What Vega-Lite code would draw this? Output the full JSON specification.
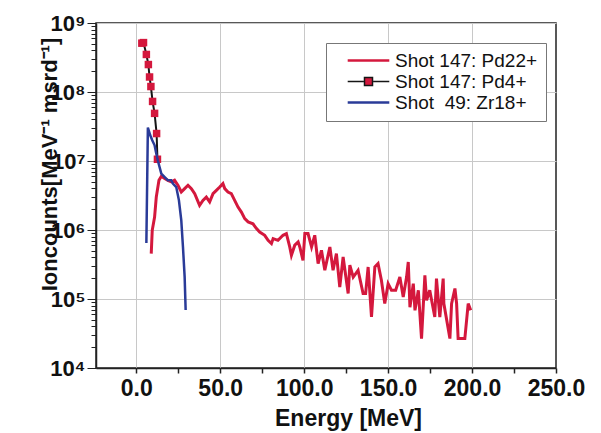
{
  "$schema": "https://vega.github.io/schema/vega-lite/v6.json",
  "autosize": "none",
  "width": 460,
  "height": 345,
  "padding": {"left": 96, "top": 23, "right": 45, "bottom": 65},
  "background": "white",
  "config": {
    "view": {"stroke": "#222", "strokeWidth": 1.5},
    "font": "Liberation Sans"
  },
  "datasets": {
    "Pd22": [
      {"x":8.9,"y":455000},{"x":9.5,"y":990000},{"x":10.9,"y":1540000},{"x":11.9,"y":3000000},{"x":13.5,"y":5250000},{"x":14.9,"y":6000000},{"x":16.9,"y":5560000},{"x":18.8,"y":5250000},{"x":20.9,"y":4970000},{"x":22.8,"y":5250000},{"x":24.8,"y":4450000},{"x":26.8,"y":3550000},{"x":28.8,"y":3980000},{"x":30.8,"y":4450000},{"x":32.8,"y":3980000},{"x":34.8,"y":3370000},{"x":37.7,"y":2280000},{"x":39.7,"y":2690000},{"x":41.7,"y":3000000},{"x":43.7,"y":2550000},{"x":45.7,"y":3370000},{"x":47.7,"y":3760000},{"x":49.7,"y":4200000},{"x":51.6,"y":4700000},{"x":52.7,"y":3980000},{"x":54.6,"y":3550000},{"x":56.6,"y":3370000},{"x":58.6,"y":2690000},{"x":60.6,"y":2150000},{"x":62.6,"y":1820000},{"x":64.6,"y":1460000},{"x":66.6,"y":1310000},{"x":69.5,"y":1230000},{"x":71.6,"y":1050000},{"x":73.5,"y":933000},{"x":76.5,"y":838000},{"x":78.5,"y":708000},{"x":80.5,"y":635000},{"x":81.5,"y":750000},{"x":84.4,"y":708000},{"x":87.4,"y":838000},{"x":89.4,"y":887000},{"x":91.4,"y":568000},{"x":92.4,"y":430000},{"x":94.4,"y":603000},{"x":96.4,"y":670000},{"x":97.4,"y":568000},{"x":99.3,"y":363000},{"x":100.4,"y":887000},{"x":102.3,"y":887000},{"x":104.4,"y":568000},{"x":106.3,"y":838000},{"x":108.3,"y":326000},{"x":110.3,"y":508000},{"x":112.3,"y":261000},{"x":115.3,"y":568000},{"x":117.2,"y":261000},{"x":119.2,"y":455000},{"x":121.2,"y":149000},{"x":123.2,"y":406000},{"x":126.2,"y":120000},{"x":127.2,"y":309000},{"x":129.2,"y":208000},{"x":132.1,"y":261000},{"x":135.1,"y":120000},{"x":136.6,"y":120000},{"x":138.1,"y":291000},{"x":140.1,"y":54800},{"x":142.1,"y":291000},{"x":144.0,"y":326000},{"x":146.0,"y":187000},{"x":148.0,"y":85700},{"x":150.0,"y":167000},{"x":152.0,"y":134000},{"x":154.5,"y":134000},{"x":157.0,"y":208000},{"x":159.0,"y":107000},{"x":161.0,"y":208000},{"x":162.0,"y":344000},{"x":163.0,"y":75900},{"x":165.0,"y":167000},{"x":166.0,"y":68500},{"x":168.0,"y":134000},{"x":169.9,"y":26700},{"x":171.9,"y":220000},{"x":172.9,"y":95700},{"x":174.8,"y":134000},{"x":177.8,"y":54800},{"x":178.8,"y":198000},{"x":180.8,"y":54800},{"x":182.8,"y":198000},{"x":183.2,"y":85700},{"x":186.8,"y":26700},{"x":187.8,"y":85700},{"x":189.8,"y":142000},{"x":190.8,"y":85700},{"x":191.7,"y":26700},{"x":195.7,"y":26700},{"x":197.7,"y":85700},{"x":199.2,"y":68500}
    ],
    "Pd4": [
      {"x":3.3,"y":510000000},{"x":4.3,"y":520000000},{"x":6.0,"y":350000000},{"x":7.2,"y":250000000},{"x":7.9,"y":165000000},{"x":8.7,"y":120000000},{"x":9.7,"y":73000000},{"x":10.9,"y":49000000},{"x":12.1,"y":25000000},{"x":12.6,"y":10600000}
    ],
    "Zr18": [
      {"x":6.0,"y":646000},{"x":6.9,"y":30500000},{"x":8.3,"y":23600000},{"x":9.5,"y":20000000},{"x":10.9,"y":16900000},{"x":11.9,"y":12800000},{"x":12.9,"y":10000000},{"x":14.9,"y":6560000},{"x":16.9,"y":5860000},{"x":18.8,"y":5250000},{"x":20.8,"y":5250000},{"x":21.8,"y":4700000},{"x":23.8,"y":4200000},{"x":25.4,"y":2690000},{"x":26.8,"y":1380000},{"x":27.8,"y":568000},{"x":28.8,"y":209000},{"x":29.4,"y":69200}
    ]
  },
  "encoding": {
    "x": {
      "field": "x", "type": "quantitative",
      "scale": {"domain": [-24, 250], "nice": false, "zero": false},
      "axis": {
        "title": "Energy [MeV]",
        "titleFont": "Liberation Sans", "titleFontSize": 23, "titleFontWeight": "bold", "titleColor": "#111",
        "titleX": 252, "titleY": 57, "titleBaseline": "alphabetic", "titleAlign": "center",
        "values": [0, 25, 50, 75, 100, 125, 150, 175, 200, 225, 250],
        "labelExpr": "datum.value % 50 == 0 ? format(datum.value, '.1f') : ''",
        "labelFont": "Liberation Sans", "labelFontSize": 23, "labelFontWeight": "bold", "labelColor": "#111",
        "labelFlush": false, "labelOverlap": false, "labelPadding": 4,
        "tickSize": 5, "tickColor": "#222", "tickWidth": 1.5,
        "domainColor": "#222", "domainWidth": 1.5,
        "grid": true, "gridColor": "#c8c8c8", "gridWidth": 1,
        "gridOpacity": {"condition": {"test": "datum.value % 50 != 0 || datum.value == 250", "value": 0}, "value": 1}
      }
    },
    "y": {
      "field": "y", "type": "quantitative",
      "scale": {"type": "log", "domain": [10000, 1000000000], "nice": false},
      "axis": {
        "title": "Ioncounts[MeV⁻¹ msrd⁻¹]",
        "titleFont": "Liberation Sans", "titleFontSize": 22, "titleFontWeight": "bold", "titleColor": "#111",
        "titleX": -40, "titleY": 141, "titleBaseline": "alphabetic", "titleAlign": "center", "titleAngle": 270,
        "values": [10000,20000,30000,40000,50000,60000,70000,80000,90000,100000,200000,300000,400000,500000,600000,700000,800000,900000,1000000,2000000,3000000,4000000,5000000,6000000,7000000,8000000,9000000,10000000,20000000,30000000,40000000,50000000,60000000,70000000,80000000,90000000,100000000,200000000,300000000,400000000,500000000,600000000,700000000,800000000,900000000,1000000000],
        "labelExpr": "abs(log(datum.value)/LN10 - round(log(datum.value)/LN10)) < 0.001 ? '10' + ['⁴','⁵','⁶','⁷','⁸','⁹'][round(log(datum.value)/LN10) - 4] : ''",
        "labelFont": "Liberation Sans", "labelFontSize": 22, "labelFontWeight": "bold", "labelColor": "#111",
        "labelFlush": false, "labelOverlap": false, "labelPadding": 2, "labelBound": false,
        "tickSize": {"condition": {"test": "abs(log(datum.value)/LN10 - round(log(datum.value)/LN10)) < 0.001", "value": 9}, "value": 5},
        "tickColor": "#222", "tickWidth": 1,
        "domainColor": "#222", "domainWidth": 1.5,
        "grid": true, "gridColor": "#c8c8c8", "gridWidth": 1,
        "gridOpacity": {"condition": {"test": "abs(log(datum.value)/LN10 - round(log(datum.value)/LN10)) < 0.001", "value": 1}, "value": 0}
      }
    }
  },
  "layer": [
    {
      "data": {"name": "Pd22"},
      "transform": [{"calculate": "'Pd22'", "as": "s"}],
      "mark": {"type": "line", "strokeWidth": 3, "interpolate": "linear"},
      "encoding": {
        "color": {
          "field": "s", "type": "nominal",
          "scale": {"domain": ["Pd22", "Pd4", "Zr18"], "range": ["#d4183d", "#151515", "#2a3b98"]},
          "legend": {
            "orient": "none", "legendX": 230, "legendY": 20,
            "title": null, "padding": 8,
            "strokeColor": "#777", "fillColor": "white",
            "labelExpr": "datum.value == 'Pd22' ? 'Shot 147: Pd22+' : datum.value == 'Pd4' ? 'Shot 147: Pd4+' : 'Shot\u00a0 49: Zr18+'",
            "labelFont": "Liberation Sans", "labelFontSize": 19, "labelColor": "#111", "labelOffset": 17,
            "symbolSize": 256, "symbolStrokeWidth": 2.5, "symbolOffset": 25,
            "symbolType": "M-2.6,0H2.6",
            "rowPadding": 1,
            "encode": {
              "symbols": {
                "update": {
                  "shape": {"signal": "datum.value == 'Pd4' ? 'M-2.6,0H-0.6M0.6,0H2.6M-0.5,-0.5H0.5V0.5H-0.5Z' : 'M-2.6,0H2.6'"},
                  "fill": {"signal": "datum.value == 'Pd4' ? '#d4183d' : 'transparent'"},
                  "strokeWidth": {"signal": "datum.value == 'Pd4' ? 1.5 : 2.5"}
                }
              }
            }
          }
        }
      }
    },
    {
      "data": {"name": "Pd4"},
      "transform": [{"calculate": "'Pd4'", "as": "s"}],
      "mark": {"type": "line", "strokeWidth": 2},
      "encoding": {"color": {"field": "s", "type": "nominal"}}
    },
    {
      "data": {"name": "Pd4"},
      "mark": {"type": "point", "shape": "square", "filled": true, "color": "#d4183d", "opacity": 1, "size": 56},
      "encoding": {}
    },
    {
      "data": {"name": "Zr18"},
      "transform": [{"calculate": "'Zr18'", "as": "s"}],
      "mark": {"type": "line", "strokeWidth": 2.5},
      "encoding": {"color": {"field": "s", "type": "nominal"}}
    }
  ]
}
